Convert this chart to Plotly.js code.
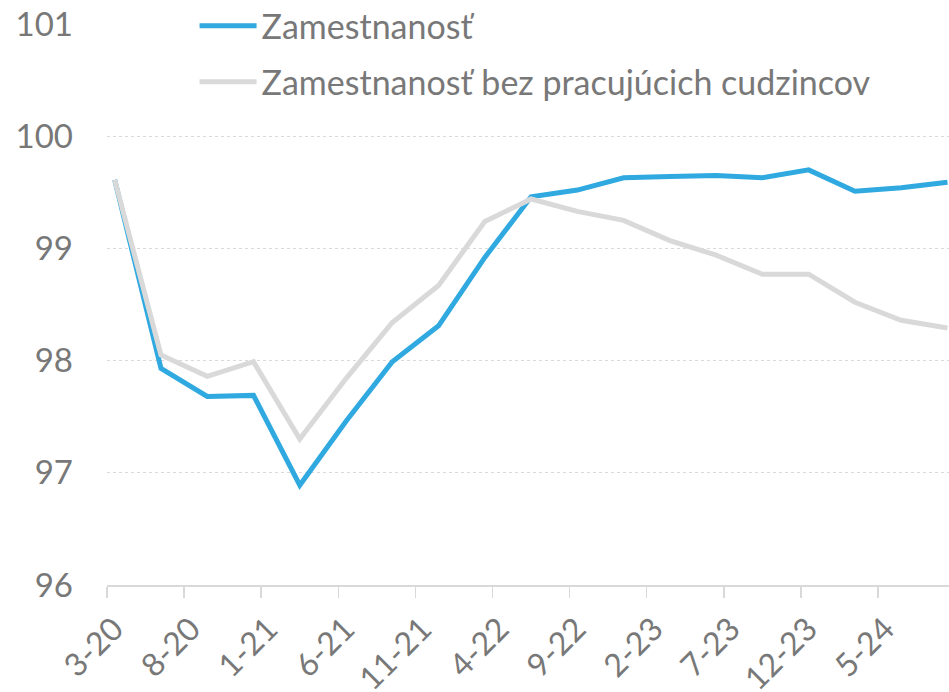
<!DOCTYPE html>
<html>
<head>
<meta charset="utf-8">
<script src="https://cdn.plot.ly/plotly-3.0.1.min.js"></script>
<style>html,body{margin:0;padding:0;background:#fff;}#chart{width:949px;height:692px;}</style>
</head>
<body>
<div id="chart"></div>
<script>
// Quarterly observations (month-year)
const periods = ["3-20","6-20","9-20","12-20","3-21","6-21","9-21","12-21","3-22","6-22","9-22","12-22","3-23","6-23","9-23","12-23","3-24","6-24","9-24"];
const employment = [99.61,97.93,97.68,97.69,96.89,97.46,97.99,98.31,98.92,99.46,99.52,99.63,99.64,99.65,99.63,99.70,99.51,99.54,99.59];
const employmentNoForeign = [99.61,98.05,97.86,97.99,97.30,97.84,98.34,98.67,99.24,99.44,99.33,99.25,99.07,98.94,98.77,98.77,98.52,98.36,98.29];
const tickLabels = ["3-20","8-20","1-21","6-21","11-21","4-22","9-22","2-23","7-23","12-23","5-24"];
const seriesNames = ["Zamestnanosť","Zamestnanosť bez pracujúcich cudzincov"];

function monthIndex(lbl){
  const p = lbl.split("-");
  return (parseInt(p[1],10)-20)*12 + parseInt(p[0],10) - 3;
}
const xs = periods.map(monthIndex);
const tickPos = tickLabels.map(l => monthIndex(l) - 0.5);

const FONT = "Lato, 'Open Sans', sans-serif";
const TXT = "#787878";

const data = [
  {x: xs, y: employment, name: seriesNames[0], type: "scatter", mode: "lines",
   line: {color: "#2FA9DF", width: 5}, legendgroup: "a"},
  {x: xs, y: employmentNoForeign, name: seriesNames[1], type: "scatter", mode: "lines",
   line: {color: "#D9D9D9", width: 5}, legendgroup: "b"}
];

const layout = {
  width: 949, height: 692,
  margin: {l: 107, r: 0, t: 24, b: 107, autoexpand: false},
  paper_bgcolor: "#fff", plot_bgcolor: "#fff",
  font: {family: FONT, color: TXT, size: 33},
  showlegend: true,
  legend: {
    xref: "paper", yref: "paper",
    x: 0.104, y: 1.048, xanchor: "left", yanchor: "top",
    bgcolor: "rgba(0,0,0,0)",
    font: {family: FONT, color: TXT, size: 34},
    traceorder: "grouped", tracegroupgap: 9, itemwidth: 57
  },
  xaxis: {
    range: [-0.5, 54.1],
    tickmode: "array", tickvals: tickPos, ticktext: tickLabels,
    tickangle: -45, ticklabelshift: 7,
    ticks: "outside", ticklen: 11, tickcolor: "#d9d9d9", tickwidth: 1.5,
    showgrid: false, zeroline: false, automargin: false,
    showline: true, linecolor: "#d9d9d9", linewidth: 1.5,
    tickfont: {family: FONT, color: TXT, size: 32}
  },
  yaxis: {
    range: [96, 101], automargin: false,
    tickvals: [96,97,98,99,100,101],
    showgrid: true, gridcolor: "#d9d9d9", gridwidth: 1, griddash: "dot",
    zeroline: false, showline: false, ticks: "",
    ticklabelstandoff: 33,
    tickfont: {family: FONT, color: TXT, size: 33}
  }
};

Plotly.newPlot("chart", data, layout, {displayModeBar: false, staticPlot: true});
</script>
</body>
</html>
